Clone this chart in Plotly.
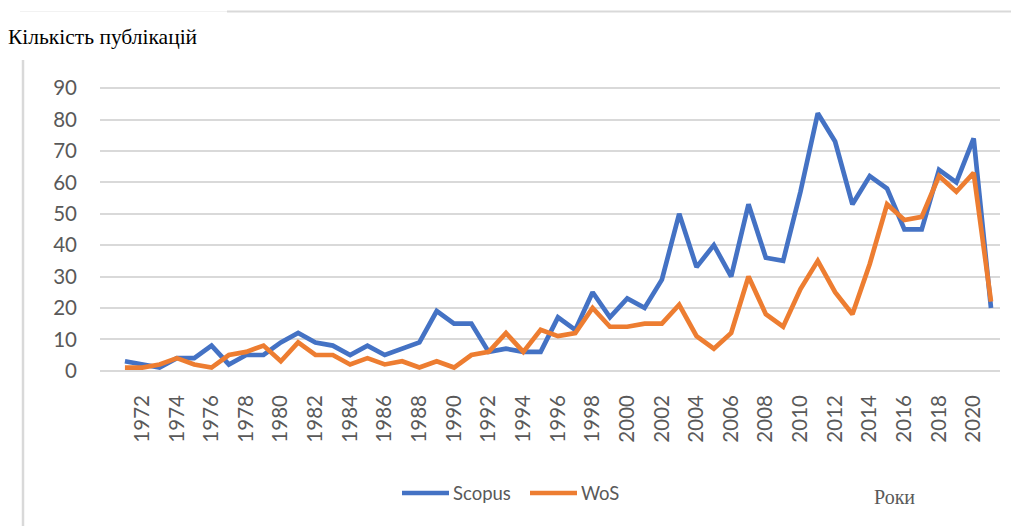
import plotly.graph_objects as go

years = list(range(1971, 2022))
scopus = [3, 2, 1, 4, 4, 8, 2, 5, 5, 9, 12, 9, 8, 5, 8, 5, 7, 9, 19, 15,
          15, 6, 7, 6, 6, 17, 13, 25, 17, 23, 20, 29, 50, 33, 40, 30, 53, 36, 35, 57,
          82, 73, 53, 62, 58, 45, 45, 64, 60, 74, 20]
wos = [1, 1, 2, 4, 2, 1, 5, 6, 8, 3, 9, 5, 5, 2, 4, 2, 3, 1, 3, 1,
       5, 6, 12, 6, 13, 11, 12, 20, 14, 14, 15, 15, 21, 11, 7, 12, 30, 18, 14, 26,
       35, 25, 18, 34, 53, 48, 49, 62, 57, 63, 22]
series_names = ["Scopus", "WoS"]
series_colors = ["#4472C4", "#ED7D31"]
tick_years = list(range(1972, 2021, 2))
y_ticks = list(range(0, 100, 10))

OFF = 8  # page body margin offset
W, H = 1019 - OFF, 526 - OFF
L, R, T, B = 100 - OFF, 19, 85 - OFF, 149
pw, ph = W - L - R, H - T - B

def px(x):
    return (x - OFF - L) / pw

def py(y):
    return (H - B - (y - OFF)) / ph

gray = "#595959"
fig = go.Figure()
for name, vals, col in zip(series_names, [scopus, wos], series_colors):
    fig.add_trace(go.Scatter(x=years, y=vals, mode="lines", name=name,
                             line=dict(color=col, width=4.7), showlegend=False))

shapes = [
    dict(type="line", xref="paper", yref="paper", x0=px(227), x1=px(1019),
         y0=py(11.5), y1=py(11.5), line=dict(color="#d9d9d9", width=2)),
    dict(type="line", xref="paper", yref="paper", x0=px(20), x1=px(227),
         y0=py(11.5), y1=py(11.5), line=dict(color="#f2f2f2", width=1)),
    dict(type="line", xref="paper", yref="paper", x0=px(23), x1=px(23),
         y0=py(60), y1=py(526), line=dict(color="#d9d9d9", width=2.5)),
]
annotations = [
    dict(text="Кількість публікацій", xref="paper", yref="paper", x=px(6), y=py(37),
         xanchor="left", yanchor="middle", showarrow=False,
         font=dict(family="Liberation Serif", size=21.5, color="black")),
    dict(text="Роки", xref="paper", yref="paper", x=px(872), y=py(497),
         xanchor="left", yanchor="middle", showarrow=False,
         font=dict(family="Liberation Serif", size=20, color=gray)),
]
# legend (drawn manually to match the longer line samples)
leg_x = [402, 530]
for name, col, lx in zip(series_names, series_colors, leg_x):
    shapes.append(dict(type="line", xref="paper", yref="paper", x0=px(lx), x1=px(lx + 47),
                       y0=py(493), y1=py(493), line=dict(color=col, width=4.5)))
    annotations.append(dict(text=name, xref="paper", yref="paper", x=px(lx + 49), y=py(493),
                            xanchor="left", yanchor="middle", showarrow=False,
                            font=dict(family="Lato", size=18.5, color=gray)))

fig.update_layout(
    width=W, height=H,
    margin=dict(l=L, r=R, t=T, b=B),
    paper_bgcolor="white", plot_bgcolor="white",
    showlegend=False,
    xaxis=dict(range=[1969.56, 2021.52], tickvals=tick_years,
               ticktext=[str(t) for t in tick_years], tickangle=-90,
               showgrid=False, zeroline=False, showline=False, ticks="",
               ticklabelstandoff=13,
               tickfont=dict(family="Lato", size=20.5, color=gray)),
    yaxis=dict(range=[-2, 91], tickvals=y_ticks, showgrid=True, gridcolor="#d9d9d9",
               gridwidth=1.5, zeroline=False, showline=False, ticks="",
               ticklabelstandoff=22,
               tickfont=dict(family="Lato", size=20.5, color=gray)),
    shapes=shapes,
    annotations=annotations,
)

fig.write_html("out.html")
